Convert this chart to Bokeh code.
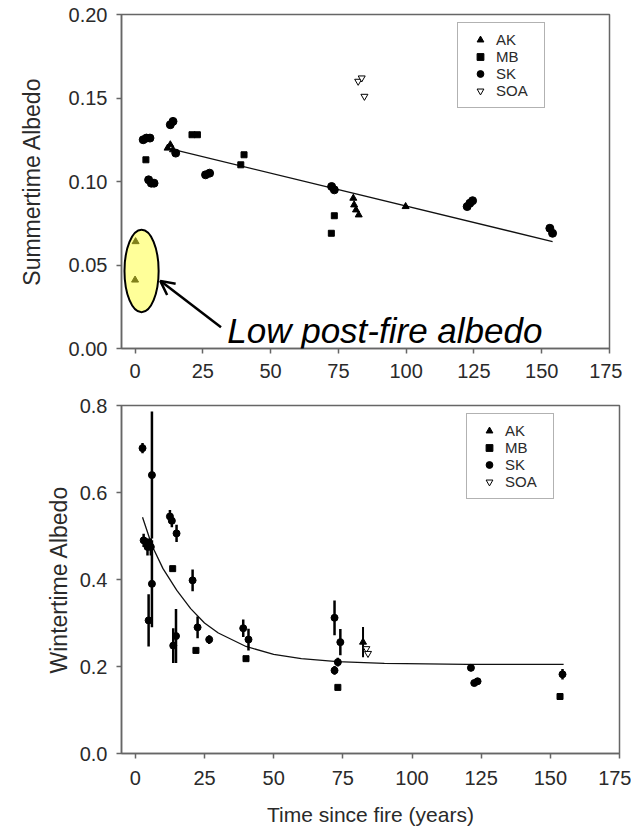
from bokeh.plotting import figure
from bokeh.layouts import column
from bokeh.models import Range1d, FixedTicker, NumeralTickFormatter, Label, Arrow, OpenHead
from bokeh.embed import file_html
from bokeh.resources import INLINE

FONT = "Liberation Sans"

# ---------------- data ----------------
x_ticks = [0, 25, 50, 75, 100, 125, 150, 175]
sum_y_ticks = [0.0, 0.05, 0.10, 0.15, 0.20]
win_y_ticks = [0.0, 0.2, 0.4, 0.6, 0.8]

# Summertime albedo
sum_ak_x = [0.0, 0.2, 12.0, 13.0, 14.0, 80.5, 80.8, 81.5, 82.5, 99.8]
sum_ak_y = [0.041, 0.064, 0.120, 0.122, 0.119, 0.090, 0.086, 0.083, 0.080, 0.085]
sum_mb_x = [4.0, 21.0, 23.0, 39.0, 40.2, 72.4, 73.5]
sum_mb_y = [0.113, 0.128, 0.128, 0.110, 0.116, 0.069, 0.0795]
sum_sk_x = [3.0, 4.2, 5.5, 5.0, 6.0, 7.0, 13.0, 14.0, 15.0, 26.0, 27.5, 72.5, 73.5, 122.5, 123.5, 124.5, 153.0, 154.0]
sum_sk_y = [0.125, 0.126, 0.126, 0.101, 0.099, 0.099, 0.134, 0.136, 0.117, 0.104, 0.105, 0.097, 0.095, 0.085, 0.087, 0.0885, 0.072, 0.069]
sum_soa_x = [82.3, 83.6, 84.6]
sum_soa_y = [0.160, 0.162, 0.151]
sum_fit_x = [12.0, 154.0]
sum_fit_y = [0.120, 0.064]

# Wintertime albedo
win_ak_x = [82.3]
win_ak_y = [0.256]
win_ak_err = [0.035]
win_mb_x = [4.5, 13.5, 21.9, 40.0, 73.2, 153.5]
win_mb_y = [0.485, 0.425, 0.237, 0.218, 0.152, 0.131]
win_sk_x = [2.6, 6.0, 3.0, 4.4, 5.6, 6.0, 4.8, 12.5, 13.2, 14.9, 20.7, 13.7, 14.7, 22.5, 26.7,
            39.0, 40.9, 72.0, 74.1, 72.0, 73.2, 121.3, 122.5, 123.7, 154.4]
win_sk_y = [0.702, 0.640, 0.490, 0.475, 0.475, 0.390, 0.306, 0.545, 0.535, 0.506, 0.398, 0.248, 0.270, 0.290, 0.262,
            0.288, 0.262, 0.312, 0.256, 0.191, 0.210, 0.197, 0.162, 0.166, 0.182]
win_sk_err = [0.012, 0.146, 0.015, 0.020, 0.020, 0.100, 0.060, 0.015, 0.015, 0.020, 0.025, 0.040, 0.062, 0.025, 0.010,
              0.020, 0.025, 0.040, 0.030, 0.010, 0.010, 0.008, 0.006, 0.006, 0.012]
win_soa_x = [83.5, 84.1]
win_soa_y = [0.241, 0.230]
win_fit_x = [2.6, 6, 10, 15, 20, 25, 30, 40, 50, 60, 73, 90, 120, 154.8]
win_fit_y = [0.543, 0.478, 0.425, 0.375, 0.333, 0.300, 0.277, 0.246, 0.228, 0.218, 0.211, 0.207, 0.205, 0.205]

# annotation (data units of the top panel)
ell_x, ell_y, ell_w, ell_h = 2.4, 0.0464, 12.6, 0.0494
arrow_start = (31.7, 0.0127)
arrow_end = (9.3, 0.0405)
note_pos = (34.0, 0.0110)
note_text = "Low post-fire albedo"

AXC = "#666666"
TXC = "#2a2a2a"


def style(p, yticks, yfmt, ytitle, ylab_standoff, xlab_standoff):
    p.xgrid.grid_line_color = None
    p.ygrid.grid_line_color = None
    p.outline_line_color = AXC
    p.outline_line_width = 1.5
    p.xaxis.ticker = FixedTicker(ticks=x_ticks)
    p.yaxis.ticker = FixedTicker(ticks=yticks)
    p.yaxis.formatter = NumeralTickFormatter(format=yfmt)
    for ax in (p.xaxis, p.yaxis):
        ax.axis_line_color = AXC
        ax.axis_line_width = 1.5
        ax.major_tick_line_color = AXC
        ax.major_tick_line_width = 1.5
        ax.major_tick_out = 5
        ax.major_tick_in = 0
        ax.minor_tick_line_color = None
        ax.major_label_text_font = FONT
        ax.major_label_text_font_size = "20px"
        ax.major_label_text_color = TXC
        ax.axis_label_text_font = FONT
        ax.axis_label_text_font_style = "normal"
        ax.axis_label_text_color = TXC
    p.yaxis.major_label_standoff = 9
    p.xaxis.major_label_standoff = xlab_standoff
    p.yaxis.axis_label = ytitle
    p.yaxis.axis_label_text_font_size = "23px"
    p.yaxis.axis_label_standoff = ylab_standoff


def style_legend(p, loc):
    lg = p.legend[0]
    lg.location = loc
    lg.margin = 0
    lg.padding = 8
    lg.spacing = 0
    lg.glyph_width = 28
    lg.glyph_height = 17
    lg.label_height = 17
    lg.label_width = 40
    lg.label_standoff = 2
    lg.label_text_font = FONT
    lg.label_text_font_size = "15px"
    lg.label_text_color = TXC
    lg.border_line_color = AXC
    lg.border_line_width = 1.5
    lg.background_fill_alpha = 1.0


# ---------------- top panel ----------------
p1 = figure(frame_width=488, frame_height=334, output_backend="svg", toolbar_location=None,
            x_range=Range1d(-5, 175), y_range=Range1d(0, 0.2),
            min_border_left=114, min_border_right=20, min_border_top=14, min_border_bottom=47)
style(p1, sum_y_ticks, "0.00", "Summertime Albedo", 21, 10)

p1.line(sum_fit_x, sum_fit_y, line_color="#111111", line_width=1.3)
p1.scatter(sum_ak_x, sum_ak_y, marker="triangle", size=7, color="black", legend_label="AK")
p1.scatter(sum_mb_x, sum_mb_y, marker="square", size=6, color="black", legend_label="MB")
p1.scatter(sum_sk_x, sum_sk_y, marker="circle", size=8, color="black", legend_label="SK")
p1.scatter(sum_soa_x, sum_soa_y, marker="inverted_triangle", size=7, line_color="black",
           fill_color="white", line_width=1, legend_label="SOA")
p1.ellipse(x=[ell_x], y=[ell_y], width=[ell_w], height=[ell_h], fill_color="#ffff33",
           fill_alpha=0.5, line_color="black", line_width=2)
p1.add_layout(Arrow(end=OpenHead(size=14, line_width=2.5, line_color="black"),
                    x_start=arrow_start[0], y_start=arrow_start[1],
                    x_end=arrow_end[0], y_end=arrow_end[1],
                    line_width=2.5, line_color="black"))
p1.add_layout(Label(x=note_pos[0], y=note_pos[1], text=note_text, text_font=FONT,
                    text_font_style="italic", text_font_size="35px", text_color="black",
                    text_baseline="middle"))
style_legend(p1, (336, 240))

# ---------------- bottom panel ----------------
p2 = figure(frame_width=498, frame_height=348, output_backend="svg", toolbar_location=None,
            x_range=Range1d(-5, 175), y_range=Range1d(0, 0.8),
            min_border_left=121, min_border_right=12, min_border_top=10, min_border_bottom=75)
style(p2, win_y_ticks, "0.0", "Wintertime Albedo", 5, 12)
p2.xaxis.axis_label = "Time since fire (years)"
p2.xaxis.axis_label_text_font_size = "21px"
p2.xaxis.axis_label_standoff = 15

p2.line(win_fit_x, win_fit_y, line_color="#111111", line_width=1.3)
p2.segment(x0=win_sk_x, y0=[y - e for y, e in zip(win_sk_y, win_sk_err)],
           x1=win_sk_x, y1=[y + e for y, e in zip(win_sk_y, win_sk_err)],
           line_color="black", line_width=2.5)
p2.segment(x0=win_ak_x, y0=[y - e for y, e in zip(win_ak_y, win_ak_err)],
           x1=win_ak_x, y1=[y + e for y, e in zip(win_ak_y, win_ak_err)],
           line_color="black", line_width=2)
p2.scatter(win_ak_x, win_ak_y, marker="triangle", size=7, color="black", legend_label="AK")
p2.scatter(win_mb_x, win_mb_y, marker="square", size=6, color="black", legend_label="MB")
p2.scatter(win_sk_x, win_sk_y, marker="circle", size=7, color="black", legend_label="SK")
p2.scatter(win_soa_x, win_soa_y, marker="inverted_triangle", size=7, line_color="black",
           fill_color="white", line_width=1, legend_label="SOA")
style_legend(p2, (345, 254))

layout = column(p1, p2)
open("out.html", "w").write(file_html(layout, INLINE))
